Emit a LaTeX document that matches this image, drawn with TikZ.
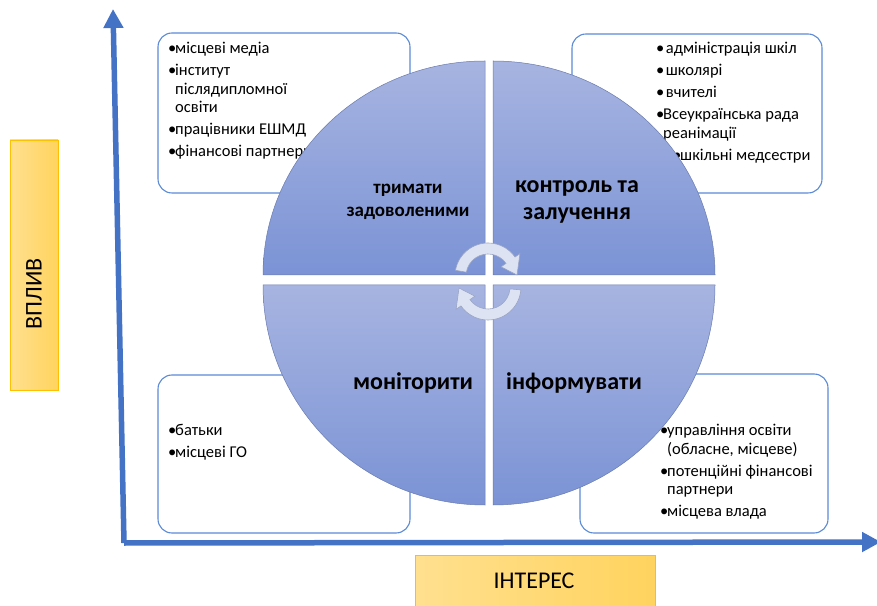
\documentclass[tikz,border=0pt]{standalone}
\usepackage{fontspec}
\setmainfont{Carlito}
\usetikzlibrary{arrows.meta,calc}
\definecolor{axisblue}{HTML}{4472C4}
\definecolor{boxblue}{HTML}{5B8BD6}
\definecolor{segtop}{HTML}{A7B4E1}
\definecolor{segbot}{HTML}{7B93D5}
\definecolor{segline}{HTML}{6A7BAE}
\definecolor{cyclefill}{HTML}{DDE3F3}
\definecolor{cycleline}{HTML}{9AA5C4}
\definecolor{goldline}{HTML}{FFC000}
\definecolor{goldlight}{HTML}{FFE08F}
\definecolor{golddark}{HTML}{FFD35E}
\tikzstyle{axisline} = [line width=5.5pt,draw=axisblue,-{Triangle[length=19pt,width=19pt]}]
\tikzstyle{groupbox} = [draw=boxblue,line width=1.1pt,rounded corners=14pt,fill=white]
\tikzstyle{quarter} = [draw=segline,line width=0.5pt,top color=segtop,bottom color=segbot]
\tikzstyle{cyclearrow} = [draw=cycleline,line width=0.6pt,fill=cyclefill]
\tikzstyle{axislabel} = [draw=goldline,line width=0.8pt,left color=goldlight,right color=golddark]
\tikzstyle{labeltext} = [font=\fontsize{24}{26}\selectfont]
\tikzstyle{itemtext} = [anchor=north west,align=left,inner sep=0pt,font=\fontsize{16.5}{18.5}\selectfont]
\tikzstyle{quadtext} = [align=center,font=\bfseries\fontsize{24}{27}\selectfont]
\newcommand{\bul}{\makebox[7pt][l]{\textbullet}}
\newcommand{\cont}{\hspace*{7pt}}

\begin{document}
\begin{tikzpicture}[x=1pt,y=1pt]
\useasboundingbox (0,0) rectangle (877,605);
% axes
\coordinate (origin) at (124,62);
\coordinate (ytop) at (113,596);
\coordinate (xend) at (881,63);
\draw[axisline] (origin) -- (ytop);
\draw[axisline] (origin) -- (xend);
\draw[axislabel] (10,215) rectangle (58,465);
\node[labeltext,rotate=90] (vplyv) at (34,311) {ВПЛИВ};
\draw[axislabel] (415,-5) rectangle (655,50);
\node[labeltext] (interes) at (534,24) {ІНТЕРЕС};
% stakeholder groups
\draw[groupbox] (158,412) rectangle (410,572);
\draw[groupbox] (572,412) rectangle (822,571);
\draw[groupbox] (158,72) rectangle (410,230);
\draw[groupbox] (580,72) rectangle (828,231);
\node[itemtext] (tl) at (168,563) {\bul місцеві медіа\\[3.5pt]
\bul інститут\\ \cont післядипломної\\ \cont освіти\\[3.5pt]
\bul працівники ЕШМД\\[3.5pt]
\bul фінансові партнери};
\node[itemtext] (tr) at (656,563) {\bul\,адміністрація шкіл\\[3.5pt]
\bul\,школярі\\[3.5pt]
\bul\,вчителі\\[3.5pt]
\bul Всеукраїнська рада\\ \cont реанімації\\[3.5pt]
\hspace*{17pt}\bul шкільні медсестри};
\node[itemtext] (bl) at (168,181) {\bul батьки\\[3.5pt]
\bul місцеві ГО};
\node[itemtext] (br) at (660,181) {\bul управління освіти\\ \cont(обласне, місцеве)\\[3.5pt]
\bul потенційні фінансові\\ \cont партнери\\[3.5pt]
\bul місцева влада};
% quarters
\draw[quarter] (485,330) -- (263,330) arc[start angle=180,end angle=90,x radius=222,y radius=214] -- cycle;
\draw[quarter] (493,330) -- (493,544) arc[start angle=90,end angle=0,x radius=222,y radius=214] -- cycle;
\draw[quarter] (485,320) -- (485,100) arc[start angle=270,end angle=180,x radius=222,y radius=220] -- cycle;
\draw[quarter] (493,320) -- (715,320) arc[start angle=0,end angle=-90,x radius=222,y radius=220] -- cycle;
\node[quadtext,font=\bfseries\fontsize{19}{23}\selectfont] (keep) at (408,403) {тримати\\задоволеними};
\node[quadtext] (manage) at (577,403) {контроль та\\залучення};
\node[quadtext] (monitor) at (413,222) {моніторити};
\node[quadtext] (inform) at (574,222) {інформувати};
% cycle arrows
\coordinate (ca) at (488,329);
\coordinate (cb) at (488,318);
\draw[cyclearrow] ($(ca)+(170:33)$) arc[start angle=170,end angle=35,radius=33]
  -- ($(ca)+(35:39)$) -- ($(ca)+(2:29)$) -- ($(ca)+(35:16)$) -- ($(ca)+(35:22)$)
  arc[start angle=35,end angle=170,radius=22] -- cycle;
\draw[cyclearrow] ($(cb)+(-5:33)$) arc[start angle=-5,end angle=-145,radius=33]
  -- ($(cb)+(-145:39)$) -- ($(cb)+(-178:29)$) -- ($(cb)+(-145:16)$) -- ($(cb)+(-145:22)$)
  arc[start angle=-145,end angle=-5,radius=22] -- cycle;
\end{tikzpicture}
\end{document}
